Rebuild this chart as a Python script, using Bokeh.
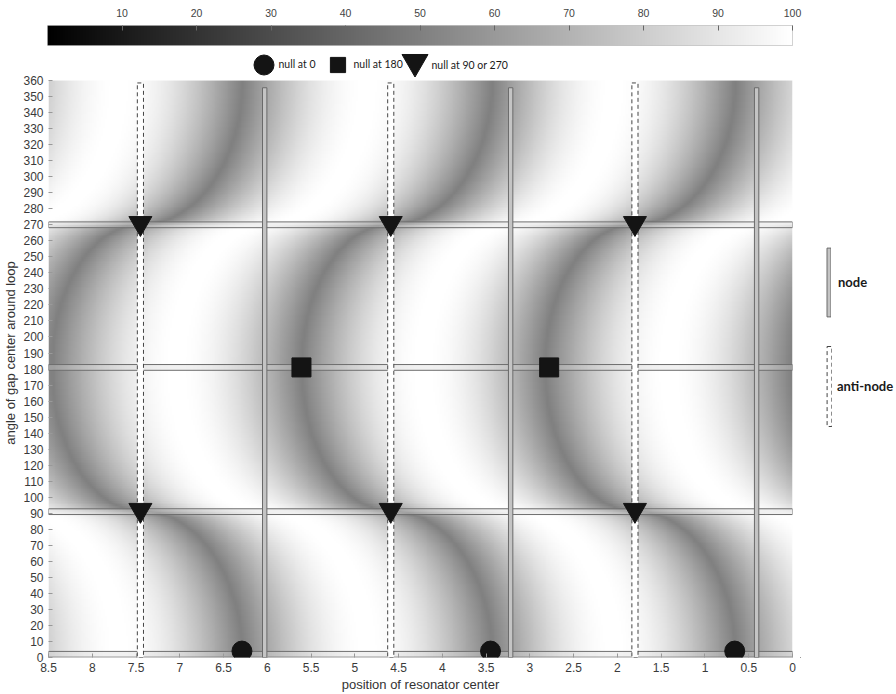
import numpy as np
from bokeh.plotting import figure
from bokeh.layouts import column, row
from bokeh.models import Range1d, LinearColorMapper, FixedTicker, Legend, LegendItem, Label
from bokeh.embed import file_html
from bokeh.resources import INLINE

# ---------------- data ----------------
x_tick_values = [8.5, 8.0, 7.5, 7.0, 6.5, 6.0, 5.5, 5.0, 4.5, 4.0, 3.5, 3.0, 2.5, 2.0, 1.5, 1.0, 0.5, 0.0]
x_tick_labels = ["8.5", "8", "7.5", "7", "6.5", "6", "5.5", "5", "4.5", "4", "3.5", "3", "2.5", "2", "1.5", "1", "0.5", "0"]
y_tick_values = [0, 10, 20, 30, 40, 50, 60, 70, 80, 90, 100, 110, 120, 130, 140, 150, 160, 170, 180,
                 190, 200, 210, 220, 230, 240, 250, 260, 270, 280, 290, 300, 310, 320, 330, 340, 350, 360]
cbar_tick_values = [10, 20, 30, 40, 50, 60, 70, 80, 90, 100]

node_x = [6.03, 3.22, 0.41]
node_top = [355.5, 355.5, 355.5]
antinode_x = [7.45, 4.59, 1.80]
antinode_top = [358.5, 358.5, 358.5]
bar_angle = [2, 91, 181, 270]

null0_x = [6.29, 3.45, 0.66]
null0_angle = [4, 4, 4]
null180_x = [5.61, 2.78]
null180_angle = [181, 181]
null90_x = [7.45, 4.59, 1.80, 7.45, 4.59, 1.80]
null90_angle = [92, 92, 92, 271, 271, 271]

# shape of the dark null curve: offset from the anti-node position versus gap angle
curve_angle = [0, 91, 181, 270, 360]
curve_offset = [-1.16, 0.0, 1.02, 0.0, -1.16]
null_period = 2.83
field_floor = 50

# ---------------- field built from the null curve ----------------
def curve_off(th):
    out = np.zeros_like(th)
    for i in range(len(curve_angle) - 1):
        a0, a1 = curve_angle[i], curve_angle[i + 1]
        d0, d1 = curve_offset[i], curve_offset[i + 1]
        m = (th >= a0) & (th <= a1)
        if d0 != 0:
            anz, az, dnz = a0, a1, d0
        else:
            anz, az, dnz = a1, a0, d1
        r = (th[m] - anz) / (az - anz)
        out[m] = dnz * np.sqrt(np.clip(1 - r ** 2, 0, None))
    return out

nx, ny = 400, 310
xs = np.linspace(0, 8.5, nx)
ths = np.linspace(0, 360, ny)
centers = np.array([antinode_x[0] + 2 * null_period, antinode_x[0] + null_period] + antinode_x +
                   [antinode_x[-1] - null_period, antinode_x[-1] - 2 * null_period])
offs = curve_off(ths)
field = np.empty((ny, nx), dtype=np.float32)
for j in range(ny):
    row_nulls = np.sort(centers + offs[j])
    idx = np.clip(np.searchsorted(row_nulls, xs), 1, len(row_nulls) - 1)
    lo, hi = row_nulls[idx - 1], row_nulls[idx]
    u = np.clip((xs - lo) / (hi - lo), 0, 1)
    field[j] = field_floor + (100 - field_floor) * np.sin(np.pi * u)

gray = ["#%02x%02x%02x" % (i, i, i) for i in range(256)]
mapper = LinearColorMapper(palette=gray, low=0, high=100)

FONT = "Liberation Sans"
LEGFONT = "Lato"
MARK = "#141414"
NODE_STYLE = dict(fill_color="#c4c4c4", line_color="#6a6a6a", line_width=1)
ANTI_STYLE = dict(fill_color="white", line_color="#444444", line_width=1, line_dash="4 3")

# ---------------- colour bar strip ----------------
cb = figure(width=896, height=48, x_range=Range1d(0, 100), y_range=Range1d(0, 1),
            toolbar_location=None, output_backend="svg", x_axis_location="above",
            min_border_left=47, min_border_right=104, min_border_top=25, min_border_bottom=3)
cb.yaxis.visible = False
cb.grid.visible = False
cb.outline_line_color = "#c4c4c4"
cb.image(image=[np.linspace(0, 100, 256, dtype=np.float32).reshape(1, -1)], x=0, y=0, dw=100, dh=1,
         color_mapper=mapper)
cb.xaxis.ticker = FixedTicker(ticks=cbar_tick_values)
cb.xaxis.major_tick_in = 5
cb.xaxis.major_tick_out = 0
cb.xaxis.major_tick_line_color = "#666666"
cb.xaxis.minor_tick_line_color = None
cb.xaxis.axis_line_color = None
cb.xaxis.major_label_standoff = 9
cb.xaxis.major_label_text_font = FONT
cb.xaxis.major_label_text_font_size = "10.5px"
cb.xaxis.major_label_text_color = "#444444"

# ---------------- main chart ----------------
p = figure(width=800, height=646, x_range=Range1d(8.5, 0), y_range=Range1d(0, 380),
           toolbar_location=None, output_backend="svg",
           min_border_left=47, min_border_right=8, min_border_top=0, min_border_bottom=37)
p.grid.visible = False
p.outline_line_color = None

p.image(image=[field], x=0, y=0, dw=8.5, dh=360, color_mapper=mapper)

p.hbar(y=bar_angle, height=3.6, left=8.6, right=0, fill_color="#d8d8d8", fill_alpha=0.35,
       line_color="#6e6e6e", line_width=1)
p.vbar(x=node_x, width=0.05, bottom=0, top=node_top, **NODE_STYLE)
p.vbar(x=antinode_x, width=0.07, bottom=0, top=antinode_top, **ANTI_STYLE)

r_c = p.ellipse(null0_x, null0_angle, width=20, height=20, width_units="screen", height_units="screen",
                fill_color=MARK, line_color=MARK)
r_s = p.rect(null180_x, null180_angle, width=19, height=19, width_units="screen", height_units="screen",
             fill_color=MARK, line_color=MARK)
r_t = p.scatter(null90_x, null90_angle, marker="inverted_triangle", size=23, fill_color=MARK, line_color=MARK)

p.xaxis.ticker = FixedTicker(ticks=x_tick_values)
p.xaxis.major_label_overrides = {v: l for v, l in zip(x_tick_values, x_tick_labels)}
p.yaxis.ticker = FixedTicker(ticks=y_tick_values)
p.xaxis.axis_label = "position of resonator center"
p.yaxis.axis_label = "angle of gap center around loop"
for ax in (p.xaxis[0], p.yaxis[0]):
    ax.major_tick_in = 4
    ax.major_tick_out = 0
    ax.major_tick_line_color = "#999999"
    ax.minor_tick_line_color = None
    ax.axis_line_color = None
    ax.major_label_text_font = FONT
    ax.major_label_text_font_size = "12px"
    ax.major_label_text_color = "#3a3a3a"
    ax.axis_label_text_font = FONT
    ax.axis_label_text_font_size = "13px"
    ax.axis_label_text_font_style = "normal"
    ax.axis_label_text_color = "#333333"
p.yaxis.major_label_standoff = 5
p.yaxis.axis_label_standoff = 2
p.xaxis.major_label_standoff = 5
p.xaxis.axis_label_standoff = 2


def key(fig, renderer, label, gw, gh, loc, standoff, font, size, style="normal"):
    lg = Legend(items=[LegendItem(label=label, renderers=[renderer])], location=loc,
                glyph_width=gw, glyph_height=gh, label_standoff=standoff, padding=0, margin=0,
                spacing=0, background_fill_alpha=0, border_line_alpha=0,
                label_text_font=font, label_text_font_size=size, label_text_font_style=style,
                label_text_color="#1a1a1a")
    fig.add_layout(lg, "center")


key(p, r_c, "null at 0", 25, 25, (202.5, 580.5), 3, LEGFONT, "10.5px")
key(p, r_s, "null at 180", 19, 19, (279.5, 583.5), 7, LEGFONT, "10.5px")
key(p, r_t, "", 65, 65, (333.5, 563), 0, LEGFONT, "10.5px")
p.add_layout(Label(x=383, y=593, x_units="screen", y_units="screen", text="null at 90 or 270",
                   text_font=LEGFONT, text_font_size="10.5px", text_color="#1a1a1a",
                   text_baseline="middle", text_align="left"))

# ---------------- side strip with node / anti-node key ----------------
# same bars drawn again, but the strip's ranges keep them out of view: only their legend keys show
side = figure(width=96, height=646, x_range=Range1d(20, 21), y_range=Range1d(1000, 1001),
              toolbar_location=None, output_backend="svg", x_axis_location=None, y_axis_location=None,
              min_border_left=0, min_border_right=0, min_border_top=0, min_border_bottom=0)
side.grid.visible = False
side.outline_line_color = None
k_node = side.vbar(x=node_x, width=0.05, bottom=0, top=node_top, **NODE_STYLE)
k_anti = side.vbar(x=antinode_x, width=0.07, bottom=0, top=antinode_top, **ANTI_STYLE)
key(side, k_node, "node", 5, 86, (26, 332), 7, "Lato", "13px", "bold")
key(side, k_anti, "anti-node", 6, 100, (26, 221), 5, "Lato", "13px", "bold")

layout = column(cb, row(p, side, spacing=0), spacing=0)
open("out.html", "w").write(file_html(layout, INLINE))
